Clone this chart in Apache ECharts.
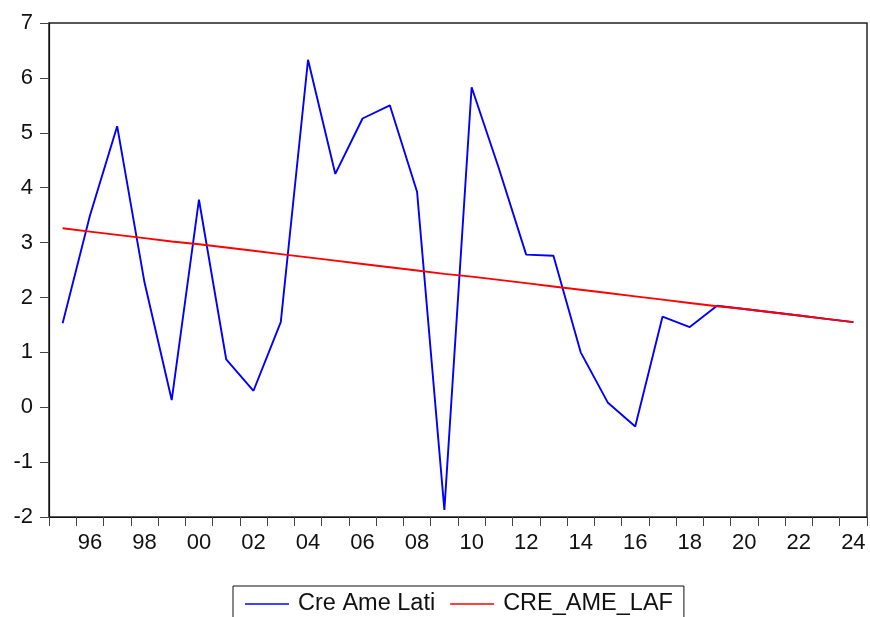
<!DOCTYPE html>
<html>
<head>
<meta charset="utf-8">
<script src="https://cdn.jsdelivr.net/npm/echarts@6/dist/echarts.min.js"></script>
<style>
html,body{margin:0;padding:0;background:#fff;}
#chart{width:870px;height:617px;}
</style>
</head>
<body>
<div id="chart"></div>
<script>
const years = [1995,1996,1997,1998,1999,2000,2001,2002,2003,2004,2005,2006,2007,2008,2009,2010,2011,2012,2013,2014,2015,2016,2017,2018,2019,2020,2021,2022,2023,2024];
const creAmeLati = [1.53,3.49,5.12,2.28,0.13,3.78,0.87,0.30,1.55,6.33,4.25,5.26,5.50,3.92,-1.87,5.83,4.35,2.78,2.76,1.00,0.08,-0.35,1.65,1.46,1.85,1.79,1.73,1.67,1.61,1.55];
const creAmeLaf = [3.26,3.20,3.14,3.08,3.02,2.97,2.91,2.85,2.79,2.73,2.67,2.61,2.55,2.49,2.43,2.38,2.32,2.26,2.20,2.14,2.08,2.02,1.96,1.90,1.84,1.79,1.73,1.67,1.61,1.55];
const yTicks = [-2,-1,0,1,2,3,4,5,6,7];

const FONT = '"Liberation Sans", Arial, sans-serif';
const chart = echarts.init(document.getElementById('chart'));
chart.setOption({
  animation: false,
  backgroundColor: '#fff',
  grid: {left: 49, right: 3, top: 23, bottom: 100, show: true, borderColor: '#222', borderWidth: 1.5, backgroundColor: 'transparent'},
  xAxis: {
    type: 'category',
    data: years.map(String),
    boundaryGap: true,
    axisLine: {show: true, onZero: false, lineStyle: {color: '#111', width: 1.2}},
    axisTick: {show: true, interval: 0, length: 9, inside: false, lineStyle: {color: '#444', width: 1}},
    axisLabel: {
      interval: function (idx) { return idx % 2 === 1; },
      formatter: function (v) { return v.slice(2); },
      color: '#111', fontFamily: FONT, fontSize: 22, margin: 15
    },
    splitLine: {show: false}
  },
  yAxis: {
    type: 'value',
    min: yTicks[0], max: yTicks[yTicks.length - 1], interval: 1,
    axisLine: {show: true, lineStyle: {color: '#111', width: 1.2}},
    axisTick: {show: true, length: 9, lineStyle: {color: '#444', width: 1}},
    axisLabel: {color: '#111', fontFamily: FONT, fontSize: 22, margin: 16},
    splitLine: {show: false}
  },
  legend: {
    left: 233, top: 586,
    padding: [6, 11, 12, 12],
    itemGap: 15,
    itemWidth: 44, itemHeight: 1.6,
    icon: 'rect',
    borderColor: '#111', borderWidth: 1,
    textStyle: {color: '#111', fontFamily: FONT, fontSize: 23.5, padding: [0, 0, 0, 4]},
    data: ['Cre Ame Lati', 'CRE_AME_LAF']
  },
  series: [
    {name: 'Cre Ame Lati', type: 'line', data: creAmeLati, symbol: 'none', lineStyle: {color: '#0000ff', width: 1.9}, itemStyle: {color: '#0000ff'}},
    {name: 'CRE_AME_LAF', type: 'line', data: creAmeLaf, symbol: 'none', lineStyle: {color: '#ff0000', width: 1.9}, itemStyle: {color: '#ff0000'}}
  ]
});
</script>
</body>
</html>
